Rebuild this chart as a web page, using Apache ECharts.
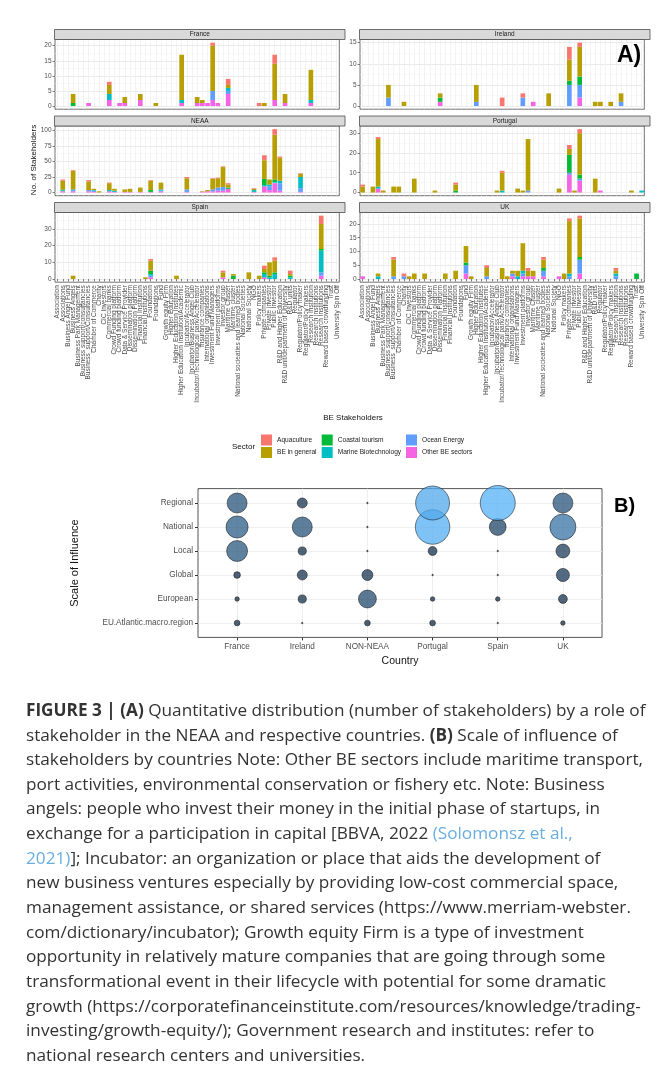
<!DOCTYPE html>
<html>
<head>
<meta charset="utf-8">
<script src="https://cdn.jsdelivr.net/npm/echarts@6/dist/echarts.min.js"></script>
<style>
html, body { margin: 0; padding: 0; background: #fff; }
#chart { width: 667px; height: 1078px; }
</style>
</head>
<body>
<div id="chart"></div>
<script>
// ---- data ----
const stakeholders = [
  'Association', 'Associations', 'Business Angel Fund', 'Business Angels', 'Business Park Management',
  'Business support/consultancies', 'Business_support/Consultancies', 'Chamber of Commerce', 'Charity',
  'CIC Investors', 'Commercial banks', 'Crowd Funding platform', 'Crowd funding platform',
  'Data & Service Provider', 'Dissemination platform', 'Dissemination Platform', 'Financial Institution',
  'Financial Institutions', 'Foundation', 'Foundations', 'Fund', 'Growth equity Firm', 'Higher Education',
  'Higher Education Institutes', 'Higher Education Institution/Academic', 'Incubator/Accelerator',
  'Incubator/Business Angel Club', 'Incubator/Technological park/Accelerator', 'Insurance companies',
  'International organisations', 'Investment Fund Managers', 'Investment platforms', 'Investor group',
  'Maritime Cluster', 'Maritime cluster', 'National socieaties and learned bodies', 'National Societies',
  'National Society', 'NGO', 'Policy makers', 'Private companies', 'Private investor', 'Public Investor',
  'R&D and Higher Education', 'R&D unit/department of University', 'R&D units', 'Regulator',
  'Regulator/Policy maker', 'Regulator/Policy makers', 'Research Institution', 'Research institutions',
  'Research Institutions', 'Reward based crowdfunding', 'Trust', 'University Spin Off'
];

// stack order, bottom to top
const sectors = ['Other BE sectors', 'Ocean Energy', 'Marine Biotechnology', 'Coastal tourism', 'BE in general', 'Aquaculture'];
const sectorColors = ['#F564E3', '#619CFF', '#00BFC4', '#00BA38', '#B79F00', '#F8766D'];

// [stakeholder no., other, ocean, marine, coastal, BE general, aquaculture]
const franceBars = [
  [4,0,0,0,1,3,0],[7,1,0,0,0,0,0],[11,2,0,2,0,3,1],[13,1,0,0,0,0,0],[14,1,0,0,0,2,0],
  [17,2,0,0,0,2,0],[20,0,0,0,0,1,0],[25,1,0,1,0,15,0],[28,1,0,0,0,2,0],[29,1,0,0,0,1,0],
  [30,1,0,0,0,0,0],[31,2,3,0,0,15,1],[32,1,0,0,0,0,0],[34,4,1,1,0,1,2],[40,0,0,0,0,0,1],
  [41,0,0,0,0,1,0],[43,2,0,0,0,12,3],[45,1,0,0,0,3,0],[50,1,0,1,0,10,0]
];
const irelandBars = [
  [6,0,2,0,0,3,0],[9,0,0,0,0,1,0],[16,1,0,0,1,1,0],[23,0,1,0,0,4,0],[28,0,0,0,0,0,2],
  [32,0,2,0,0,0,1],[34,1,0,0,0,0,0],[37,0,0,0,0,3,0],[41,0,5,0,1,5,3],[43,2,3,0,2,7,1],
  [46,0,0,0,0,1,0],[47,0,0,0,0,1,0],[49,0,0,0,0,1,0],[51,0,1,0,0,2,0]
];
const neaaBars = [
  [2,2,1,0,2,14,2],[4,2,2,1,0,30,1],[7,2,2,0,0,14,2],[8,1,2,1,0,2,0],[9,0,0,0,0,2,0],
  [11,2,0,2,0,11,1],[12,1,0,2,0,3,0],[14,1,0,0,0,4,0],[15,1,0,0,0,5,0],[17,1,0,0,0,7,0],
  [19,1,0,0,3,15,1],[21,2,1,2,0,11,0],[26,1,4,0,0,18,2],[29,1,0,0,0,1,0],[30,2,0,0,0,2,0],
  [31,2,3,0,0,17,1],[32,3,5,0,0,15,1],[33,3,6,0,0,32,1],[34,6,0,0,2,5,2],[39,1,0,3,0,2,1],
  [41,10,0,2,10,30,8],[42,4,6,3,0,8,0],[43,15,1,1,4,72,9],[44,3,12,4,0,37,2],[48,1,6,18,0,5,1]
];
const portugalBars = [
  [1,0,0,0,0,3,1],[3,0,0,0,0,3,0],[4,2,0,1,0,24,1],[5,0,0,0,0,1,0],[7,0,0,0,0,3,0],
  [8,0,0,0,0,3,0],[11,0,0,0,0,7,0],[15,0,0,0,0,1,0],[19,0,0,0,1,3,1],[27,0,0,0,0,1,0],
  [28,0,0,1,0,9,1],[31,0,0,0,0,2,0],[32,0,0,0,0,1,0],[33,0,1,0,0,26,0],[39,0,0,0,0,2,0],
  [41,9,1,0,9,3,2],[42,0,0,0,0,1,0],[43,6,1,0,2,21,2],[46,0,0,0,0,7,0],[47,1,0,0,0,0,0],
  [53,0,0,0,0,1,0],[55,0,0,1,0,0,0]
];
const spainBars = [
  [4,0,0,0,0,2,0],[18,0,0,0,0,1,0],[19,1,1,1,2,6,1],[24,0,0,0,0,2,0],[33,1,0,0,0,3,1],
  [35,0,0,0,2,1,0],[38,0,0,0,0,4,0],[40,0,0,0,0,2,0],[41,1,0,2,1,2,2],[42,0,0,1,1,8,0],
  [43,0,0,3,1,7,2],[46,0,0,1,1,1,2],[52,2,2,13,1,15,5]
];
const ukBars = [
  [1,1,0,0,0,0,0],[4,0,0,1,0,1,0],[7,0,1,0,0,6,1],[9,0,1,0,0,0,1],[10,0,0,0,0,1,0],
  [11,0,0,0,0,2,0],[13,0,0,0,0,2,0],[17,0,0,0,0,2,0],[19,0,0,0,0,3,0],[21,2,3,0,1,6,0],
  [22,0,0,0,0,1,0],[25,0,1,0,0,3,1],[28,0,0,0,0,4,0],[29,0,0,0,0,1,0],[30,1,1,0,0,1,0],
  [31,0,0,1,0,2,0],[32,1,1,1,0,10,0],[33,1,0,0,0,2,1],[34,1,0,0,0,2,0],[36,1,2,0,1,3,1],
  [39,1,0,0,0,0,0],[40,0,0,0,0,2,0],[41,0,1,1,0,19,1],[43,2,5,0,1,14,1],[50,0,1,1,0,1,1],
  [54,0,0,0,2,0,0]
];

const panelNames = ['France', 'Ireland', 'NEAA', 'Portugal', 'Spain', 'UK'];
const panelBars = [franceBars, irelandBars, neaaBars, portugalBars, spainBars, ukBars];
const panelTicks = [[0,5,10,15,20], [0,5,10,15], [0,25,50,75,100], [0,10,20,30], [0,10,20,30], [0,5,10,15,20]];

// panel B: scale of influence (stakeholder counts)
const countriesB = ['France', 'Ireland', 'NON-NEAA', 'Portugal', 'Spain', 'UK'];
const scalesB = ['EU.Atlantic.macro.region', 'European', 'Global', 'Local', 'National', 'Regional'];
const euAtlantic = [2, 0, 2, 2, 0, 1];
const european   = [1, 5, 30, 1, 1, 6];
const global     = [3, 8, 10, 0, 0, 15];
const local      = [42, 5, 0, 6, 0, 17];
const national   = [47, 38, 0, 121, 26, 67];
const regional   = [38, 8, 0, 117, 125, 38];
const influenceRows = [euAtlantic, european, global, local, national, regional];

const captionLines = [
  '{b|FIGURE 3 | (A)} Quantitative distribution (number of stakeholders) by a role of',
  'stakeholder in the NEAA and respective countries. {b|(B)} Scale of influence of',
  'stakeholders by countries Note: Other BE sectors include maritime transport,',
  'port activities, environmental conservation or fishery etc. Note: Business',
  'angels: people who invest their money in the initial phase of startups, in',
  'exchange for a participation in capital [BBVA, 2022 {l|(Solomonsz et al.,}',
  '{l|2021)}]; Incubator: an organization or place that aids the development of',
  'new business ventures especially by providing low-cost commercial space,',
  'management assistance, or shared services (https://www.merriam-webster.',
  'com/dictionary/incubator); Growth equity Firm is a type of investment',
  'opportunity in relatively mature companies that are going through some',
  'transformational event in their lifecycle with potential for some dramatic',
  'growth (https://corporatefinanceinstitute.com/resources/knowledge/trading-',
  'investing/growth-equity/); Government research and institutes: refer to',
  'national research centers and universities.'
];

// ---- layout ----
const SANS = '"Liberation Sans", Arial, sans-serif';
const colLeft = [54.5, 359.5];
const rowTop = [39.5, 126, 212.5];
const panelW = 290.5, panelH = 69.7;
const nCat = stakeholders.length;
const unit = panelW / (nCat + 1.2);

const chart = echarts.init(document.getElementById('chart'));
const grids = [], xAxes = [], yAxes = [], series = [], graphics = [];

panelNames.forEach(function (name, p) {
  const col = p % 2, row = Math.floor(p / 2);
  const bottomRow = row === 2;
  const L = colLeft[col], T = rowTop[row];
  const rows = panelBars[p];
  let maxTotal = 0;
  rows.forEach(function (r) {
    let s = 0;
    for (let k = 1; k < r.length; k++) s += r[k];
    maxTotal = Math.max(maxTotal, s);
  });
  const ticks = panelTicks[p];
  const step = ticks[1] - ticks[0];
  const yMin = -0.05 * maxTotal, yMax = maxTotal * 1.05;
  const minor = [];
  ticks.forEach(function (t) { if (t + step / 2 <= yMax) minor.push(t + step / 2); });

  grids.push({ left: L + 0.1 * unit, top: T, width: nCat * unit, height: panelH,
    show: true, borderColor: '#4d4d4d', borderWidth: 0.8, backgroundColor: '#fff' });
  xAxes.push({
    type: 'category', gridIndex: p, data: stakeholders,
    axisLine: { show: false },
    axisTick: { show: bottomRow, interval: 0, alignWithLabel: true, length: 2.5, lineStyle: { color: '#333', width: 0.6 } },
    axisLabel: { show: bottomRow, interval: 0, rotate: 90, fontSize: 6.5, color: '#4d4d4d', fontFamily: SANS, margin: 3 },
    splitLine: { show: true, interval: 0, alignWithLabel: true, lineStyle: { color: '#ebebeb', width: 0.6 } }
  });
  yAxes.push({
    type: 'value', gridIndex: p, min: yMin, max: yMax,
    axisLine: { show: false },
    axisTick: { show: true, customValues: ticks, length: 2.5, lineStyle: { color: '#333', width: 0.6 } },
    axisLabel: { customValues: ticks, fontSize: 6.5, color: '#4d4d4d', fontFamily: SANS, margin: 3.5 },
    splitLine: { show: true, customValues: ticks, lineStyle: { color: '#e6e6e6', width: 0.8 } }
  });
  yAxes.push({
    type: 'value', gridIndex: p, min: yMin, max: yMax, position: 'left',
    axisLine: { show: false },
    axisTick: { show: false, customValues: minor },
    axisLabel: { show: false, customValues: minor },
    splitLine: { show: true, customValues: minor, lineStyle: { color: '#f2f2f2', width: 0.5 } }
  });

  sectors.forEach(function (sec, s) {
    const data = stakeholders.map(function () { return 0; });
    rows.forEach(function (r) { data[r[0] - 1] = r[s + 1]; });
    series.push({
      type: 'bar', name: sec, xAxisIndex: p, yAxisIndex: 2 * p, stack: 'panel' + p,
      barWidth: '90%', data: data, silent: true,
      itemStyle: { color: sectorColors[s] }
    });
  });

  // facet strip
  graphics.push({ type: 'rect', shape: { x: L, y: T - 10, width: panelW, height: 10 },
    style: { fill: '#d9d9d9', stroke: '#4d4d4d', lineWidth: 0.8 } });
  graphics.push({ type: 'text', x: L + panelW / 2, y: T - 5,
    style: { text: name, fill: '#1a1a1a', font: '6.5px ' + SANS, align: 'center', verticalAlign: 'middle' } });
});

// panel B
const gB = grids.length;
grids.push({ left: 198, top: 488.6, width: 404, height: 148.8, show: true,
  borderColor: '#555', borderWidth: 1, backgroundColor: '#fff' });
xAxes.push({
  type: 'value', gridIndex: gB, min: 0.4, max: 6.6,
  axisLine: { show: false },
  axisTick: { customValues: [1,2,3,4,5,6], length: 3, lineStyle: { color: '#333' } },
  axisLabel: { customValues: [1,2,3,4,5,6], formatter: function (v) { return countriesB[Math.round(v) - 1]; },
    fontSize: 8.2, color: '#4d4d4d', fontFamily: SANS, margin: 5 },
  splitLine: { show: true, customValues: [1,2,3,4,5,6], lineStyle: { color: '#ebebeb', width: 0.8 } },
  name: 'Country', nameLocation: 'middle', nameGap: 18,
  nameTextStyle: { fontSize: 10.5, color: '#111', fontFamily: SANS }
});
yAxes.push({
  type: 'value', gridIndex: gB, min: 0.4, max: 6.6,
  axisLine: { show: false },
  axisTick: { customValues: [1,2,3,4,5,6], length: 3, lineStyle: { color: '#333' } },
  axisLabel: { customValues: [1,2,3,4,5,6], formatter: function (v) { return scalesB[Math.round(v) - 1]; },
    fontSize: 8.2, color: '#4d4d4d', fontFamily: SANS, margin: 5 },
  splitLine: { show: true, customValues: [1,2,3,4,5,6], lineStyle: { color: '#ebebeb', width: 0.8 } }
});
const bubbleData = [];
influenceRows.forEach(function (vals, r) {
  vals.forEach(function (v, c) { bubbleData.push([c + 1, r + 1, v]); });
});
series.push({
  type: 'scatter', xAxisIndex: gB, yAxisIndex: yAxes.length - 1, data: bubbleData, silent: true,
  symbolSize: function (d) { return 1.5 + 3 * Math.sqrt(d[2]); },
  itemStyle: { opacity: 0.75, borderColor: '#111', borderWidth: 0.7 }
});

// titles and labels
graphics.push({ type: 'text', x: 34, y: 160, rotation: Math.PI / 2,
  style: { text: 'No. of Stakeholders', fill: '#111', font: '8px ' + SANS, align: 'center', verticalAlign: 'middle' } });
graphics.push({ type: 'text', x: 353, y: 418,
  style: { text: 'BE Stakeholders', fill: '#111', font: '8px ' + SANS, align: 'center', verticalAlign: 'middle' } });
graphics.push({ type: 'text', x: 617, y: 56,
  style: { text: 'A)', fill: '#000', font: 'bold 23px ' + SANS, verticalAlign: 'middle' } });
graphics.push({ type: 'text', x: 232, y: 446.5,
  style: { text: 'Sector', fill: '#111', font: '8px ' + SANS, verticalAlign: 'middle' } });
graphics.push({ type: 'text', x: 75, y: 563, rotation: Math.PI / 2,
  style: { text: 'Scale of Influence', fill: '#111', font: '11px ' + SANS, align: 'center', verticalAlign: 'middle' } });
graphics.push({ type: 'text', x: 614, y: 506,
  style: { text: 'B)', fill: '#000', font: 'bold 20px ' + SANS, verticalAlign: 'middle' } });

const CAP = '"Open Sans", sans-serif';
const CAP_SIZE = 17.2;
captionLines.forEach(function (line, i) {
  graphics.push({ type: 'text', x: 26, y: 711 + i * 24.64,
    style: { text: line, fill: '#333', font: CAP_SIZE + 'px ' + CAP, verticalAlign: 'middle',
      rich: {
        b: { fontWeight: 'bold', fontSize: CAP_SIZE, fontFamily: CAP, fill: '#333' },
        l: { fontSize: CAP_SIZE, fontFamily: CAP, fill: '#6aaee0' }
      } } });
});
graphics.forEach(function (g) { g.z = 100; });

const legendBase = { orient: 'vertical', top: 434.5, itemWidth: 11, itemHeight: 11, itemGap: 1.5,
  icon: 'rect', selectedMode: false, padding: 0,
  textStyle: { fontSize: 6.6, color: '#1a1a1a', fontFamily: SANS } };

chart.setOption({
  animation: false,
  backgroundColor: '#fff',
  grid: grids,
  xAxis: xAxes,
  yAxis: yAxes,
  series: series,
  visualMap: { type: 'continuous', show: false, seriesIndex: series.length - 1, dimension: 2,
    min: 0, max: 125, inRange: { color: ['#132B43', '#56B1F7'] } },
  legend: [
    Object.assign({ left: 261, data: ['Aquaculture', 'BE in general'] }, legendBase),
    Object.assign({ left: 321.7, data: ['Coastal tourism', 'Marine Biotechnology'] }, legendBase),
    Object.assign({ left: 406, data: ['Ocean Energy', 'Other BE sectors'] }, legendBase)
  ],
  graphic: graphics
});
</script>
</body>
</html>
